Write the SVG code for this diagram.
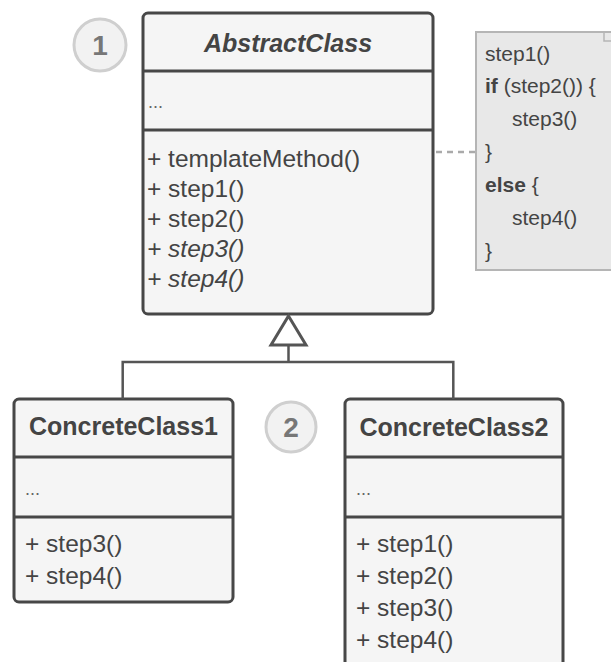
<svg xmlns="http://www.w3.org/2000/svg" width="611" height="662" viewBox="0 0 611 662">
<style>
.box{fill:#f5f5f5;stroke:#474747;stroke-width:3}
.div{stroke:#474747;stroke-width:3}
.t{font-family:"Liberation Sans",Arial,sans-serif;fill:#444}
.title{font-size:25px;font-weight:bold;text-anchor:middle}
.m{font-size:24.5px}
.n{font-size:21px}
.dots{font-size:18px;fill:#666}
.badge{fill:#f2f2f2;stroke:#cfcfcf;stroke-width:3}
.bt{font-family:"Liberation Sans",Arial,sans-serif;font-size:28px;font-weight:bold;fill:#777;text-anchor:middle}
.conn{fill:none;stroke:#555;stroke-width:2.5}
</style>
<rect width="611" height="662" fill="#ffffff"/>
<g id="badge1">
<circle class="badge" cx="100" cy="45" r="26"/>
<text class="bt" x="100" y="55">1</text>
</g>
<g id="abstractClass">
<rect class="box" x="143" y="13" width="290" height="301" rx="5"/>
<line class="div" x1="143" y1="71" x2="433" y2="71"/>
<line class="div" x1="143" y1="130" x2="433" y2="130"/>
<text class="t title" x="288" y="52" font-style="italic" font-size="24">AbstractClass</text>
<text class="t dots" x="148" y="108">...</text>
<text class="t m" x="147" y="167">+ templateMethod()</text>
<text class="t m" x="147" y="197">+ step1()</text>
<text class="t m" x="147" y="227">+ step2()</text>
<text class="t m" x="147" y="257" font-style="italic">+ step3()</text>
<text class="t m" x="147" y="287" font-style="italic">+ step4()</text>
</g>
<g id="note">
<rect x="476" y="32" width="145" height="238" fill="#e8e8e8" stroke="#b5b5b5" stroke-width="2"/>
<path d="M604,32 v9 h8" fill="none" stroke="#b5b5b5" stroke-width="1.5"/>
<text class="t n" x="485" y="61">step1()</text>
<text class="t n" x="485" y="93"><tspan font-weight="bold">if</tspan> (step2()) {</text>
<text class="t n" x="512" y="126">step3()</text>
<text class="t n" x="485" y="159">}</text>
<text class="t n" x="485" y="192"><tspan font-weight="bold">else</tspan> {</text>
<text class="t n" x="512" y="225">step4()</text>
<text class="t n" x="485" y="258">}</text>
</g>
<g id="badge2">
<circle class="badge" cx="291" cy="427" r="25"/>
<text class="bt" x="291" y="437">2</text>
</g>
<g id="concreteClass1">
<rect class="box" x="14" y="399" width="219" height="203" rx="5"/>
<line class="div" x1="14" y1="457" x2="233" y2="457"/>
<line class="div" x1="14" y1="517" x2="233" y2="517"/>
<text class="t title" x="123.5" y="435">ConcreteClass1</text>
<text class="t dots" x="25" y="495">...</text>
<text class="t m" x="25" y="552">+ step3()</text>
<text class="t m" x="25" y="584">+ step4()</text>
</g>
<g id="concreteClass2">
<rect class="box" x="345" y="399" width="218" height="280" rx="5"/>
<line class="div" x1="345" y1="457" x2="563" y2="457"/>
<line class="div" x1="345" y1="517" x2="563" y2="517"/>
<text class="t title" x="454" y="436">ConcreteClass2</text>
<text class="t dots" x="356" y="495">...</text>
<text class="t m" x="356" y="552">+ step1()</text>
<text class="t m" x="356" y="584">+ step2()</text>
<text class="t m" x="356" y="616">+ step3()</text>
<text class="t m" x="356" y="648">+ step4()</text>
</g>
<g id="connectors">
<line x1="436" y1="152" x2="475" y2="152" stroke="#aaaaaa" stroke-width="2.5" stroke-dasharray="6 5"/>
<path class="conn" d="M288.5,345 V362 M122.7,399 V362 H453.3 V399"/>
<path d="M288.5,316 L306,345 L271,345 Z" fill="#ffffff" stroke="#555" stroke-width="3" stroke-linejoin="miter"/>
</g>
</svg>
